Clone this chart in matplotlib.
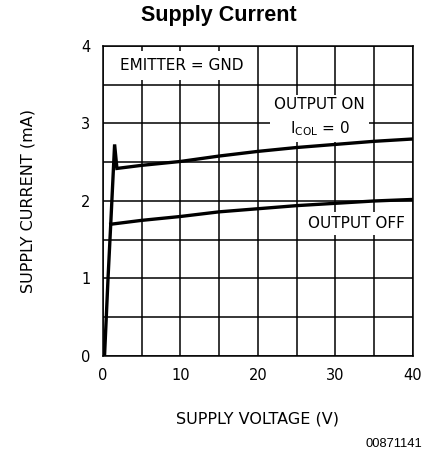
import matplotlib
matplotlib.use("Agg")
import matplotlib.pyplot as plt
from matplotlib.ticker import MultipleLocator

plt.rcParams['font.family'] = ['DejaVu Sans']
plt.rcParams['mathtext.fontset'] = 'custom'
plt.rcParams['mathtext.rm'] = 'DejaVu Sans'

# output on (includes the start-up rise and overshoot)
v_on = [0.2, 0.65, 1.0, 1.5, 1.8, 5, 10, 15, 20, 25, 30, 35, 40]
i_on = [0.0, 1.0, 1.7, 2.73, 2.42, 2.46, 2.51, 2.58, 2.64, 2.69, 2.73, 2.77, 2.80]
# output off
v_off = [1.0, 5, 10, 15, 20, 25, 30, 35, 40]
i_off = [1.70, 1.75, 1.80, 1.86, 1.90, 1.94, 1.97, 2.00, 2.02]

x_ticks = [0, 10, 20, 30, 40]
y_ticks = [0, 1, 2, 3, 4]

fig = plt.figure(figsize=(4.3, 4.54), dpi=100, facecolor="w")
ax = fig.add_axes([0.2395, 0.2159, 0.7205, 0.6828])

ax.plot(v_on, i_on, color="k", lw=2.4, solid_joinstyle="miter", zorder=4)
ax.plot(v_off, i_off, color="k", lw=2.4, zorder=4)

ax.set_xlim(0, 40)
ax.set_ylim(0, 4)
ax.set_xticks(x_ticks)
ax.set_yticks(y_ticks)
ax.xaxis.set_minor_locator(MultipleLocator(5))
ax.yaxis.set_minor_locator(MultipleLocator(0.5))
ax.grid(True, which="both", color="k", lw=1.1)
ax.set_axisbelow(True)
ax.tick_params(which="both", length=0, labelsize=10.5)
ax.tick_params(axis="x", pad=9)
ax.tick_params(axis="y", pad=9)
for s in ax.spines.values():
    s.set_linewidth(1.1)

box = dict(facecolor="w", edgecolor="none", pad=3)
ax.text(10.2, 3.75, "EMITTER = GND", ha="center", va="center", fontsize=11,
        bbox=dict(facecolor="w", edgecolor="none", pad=5), zorder=3)
ax.text(28.0, 3.08, "OUTPUT ON\n$\\mathrm{I}_{\\mathrm{COL}}$ = 0", ha="center", va="center",
        fontsize=11, linespacing=1.5, bbox=box, zorder=3)
ax.text(32.7, 1.71, "OUTPUT OFF", ha="center", va="center", fontsize=11, bbox=box, zorder=3)

ax.set_xlabel("SUPPLY VOLTAGE (V)", fontsize=11.5, labelpad=20)
ax.set_ylabel("SUPPLY CURRENT (mA)", fontsize=11.5, labelpad=33)
fig.text(0.509, 0.966, "Supply Current", ha="center", va="center", fontsize=15.5,
         fontweight="bold", family="Liberation Sans")
fig.text(0.982, 0.022, "00871141", ha="right", va="center", fontsize=9.3, family="Liberation Sans")

fig.savefig("out.png", dpi=100)
